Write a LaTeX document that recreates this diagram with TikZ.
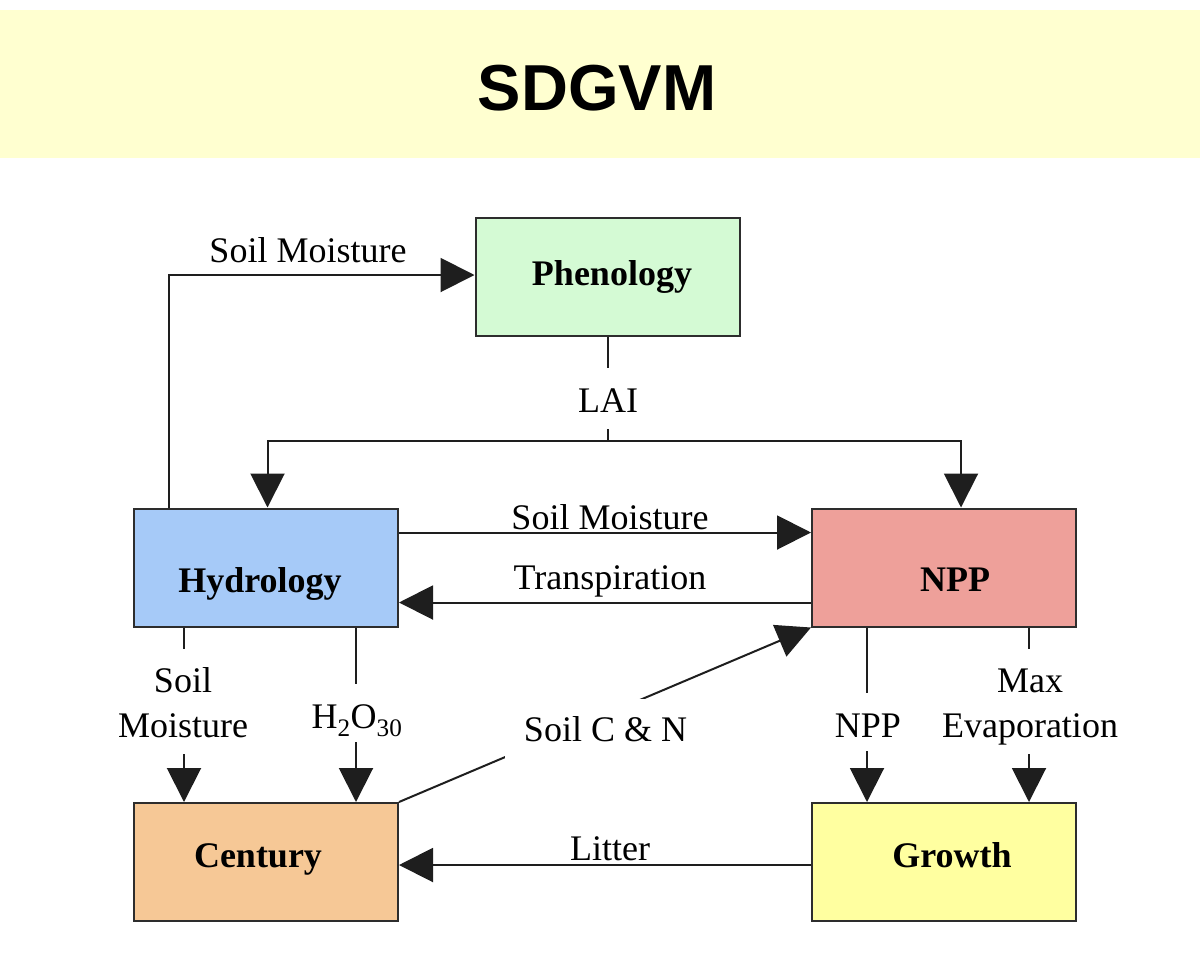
\documentclass[tikz,border=0pt]{standalone}
\usepackage{fontspec}
\setmainfont{Liberation Serif}
\newfontfamily\arialfont{Liberation Sans}
\usetikzlibrary{arrows.meta}
\definecolor{bannerclr}{RGB}{255,255,208}
\definecolor{phenclr}{RGB}{212,250,212}
\definecolor{hydclr}{RGB}{166,202,248}
\definecolor{nppclr}{RGB}{238,160,154}
\definecolor{cenclr}{RGB}{246,200,150}
\definecolor{groclr}{RGB}{255,255,160}
\definecolor{boxline}{RGB}{45,45,45}
\definecolor{lineclr}{RGB}{30,30,30}
\begin{document}
\begin{tikzpicture}[x=1pt,y=-1pt,
  box/.style={draw=boxline, line width=2pt, minimum width=264pt, minimum height=118pt, inner sep=0pt},
  lbl/.style={font=\fontsize{36}{45}\selectfont, inner sep=0pt, text=black},
  blbl/.style={font=\fontsize{36}{45}\selectfont\bfseries, inner sep=0pt, text=black},
  conn/.style={line width=2pt, draw=lineclr},
  arr/.style={conn, -{Triangle[length=34pt,width=34pt]}},
  titlestyle/.style={font=\arialfont\bfseries\fontsize{65}{78}\selectfont, inner sep=0pt}
]
\useasboundingbox (0,0) rectangle (1200,956);
\fill[bannerclr] (0,10) rectangle (1200,158);
\node[titlestyle, anchor=base] (title) at (597,110) {SDGVM};

% boxes
\node[box, fill=phenclr, label={[blbl, xshift=4.5pt, yshift=0.5pt]center:Phenology}] (phe) at (607.5,277) {};
\node[box, fill=hydclr, label={[blbl, xshift=-6pt, yshift=-16pt]center:Hydrology}] (hyd) at (266,567.5) {};
\node[box, fill=nppclr, label={[blbl, xshift=11pt, yshift=-12pt]center:NPP}] (npp) at (944,567.5) {};
\node[box, fill=cenclr, label={[blbl, xshift=-8pt, yshift=2.5pt]center:Century}] (cen) at (266,862) {};
\node[box, fill=groclr, label={[blbl, xshift=8pt, yshift=7pt]center:Growth}] (gro) at (944,862) {};

% hydrology -> phenology
\draw[arr] ([xshift=36pt]hyd.north west) |- ([yshift=2pt]phe.west);
\node[lbl, anchor=base] (sm1) at (308,262) {Soil Moisture};

% LAI
\coordinate (split) at ([yshift=-104pt]phe.south);
\draw[conn] (phe.south) -- ([yshift=-31pt]phe.south);
\node[lbl, anchor=base] (lai) at (608,412) {LAI};
\draw[conn] ([yshift=-92pt]phe.south) -- (split);
\draw[arr] (split) -| ([xshift=134.5pt]hyd.north west);
\draw[arr] (split) -| ([xshift=-116pt]npp.north east);

% hydrology <-> npp
\draw[arr] ([yshift=-25pt]hyd.north east) -- ([yshift=-25pt]npp.north west);
\node[lbl, anchor=base] (sm2) at (610,529) {Soil Moisture};
\draw[arr] ([yshift=25pt]npp.south west) -- ([yshift=25pt]hyd.south east);
\node[lbl, anchor=base] (tr) at (610,589) {Transpiration};

% hydrology -> century
\draw[conn] ([xshift=51pt]hyd.south west) -- ([xshift=51pt,yshift=-21pt]hyd.south west);
\node[lbl, align=center] (sm3) at (183,703) {Soil\\Moisture};
\draw[arr] ([xshift=51pt,yshift=48pt]cen.north west) -- ([xshift=51pt]cen.north west);

\draw[conn] ([xshift=223pt]hyd.south west) -- ([xshift=223pt,yshift=-56pt]hyd.south west);
\node[lbl, anchor=base] (h2o) at (357,728) {H\textsubscript{2}O\textsubscript{30}};
\draw[arr] ([xshift=223pt,yshift=60pt]cen.north west) -- ([xshift=223pt]cen.north west);

% century -> npp
\draw[arr] (cen.north east) -- (npp.south west);
\node[lbl, fill=white, minimum width=201pt, minimum height=61pt] (scn) at (605.5,729.5) {Soil C \& N};

% npp -> growth
\draw[conn] ([xshift=56pt]npp.south west) -- ([xshift=56pt,yshift=-65pt]npp.south west);
\node[lbl, anchor=base] (npplbl) at (868,737) {NPP};
\draw[arr] ([xshift=56pt,yshift=51pt]gro.north west) -- ([xshift=56pt]gro.north west);

\draw[conn] ([xshift=218pt]npp.south west) -- ([xshift=218pt,yshift=-21pt]npp.south west);
\node[lbl, align=center] (mev) at (1030,707) {Max\\Evaporation};
\draw[arr] ([xshift=218pt,yshift=48pt]gro.north west) -- ([xshift=218pt]gro.north west);

% growth -> century
\draw[arr] ([yshift=-63pt]gro.north west) -- ([yshift=-63pt]cen.north east);
\node[lbl, anchor=base] (lit) at (610,860) {Litter};
\end{tikzpicture}
\end{document}
